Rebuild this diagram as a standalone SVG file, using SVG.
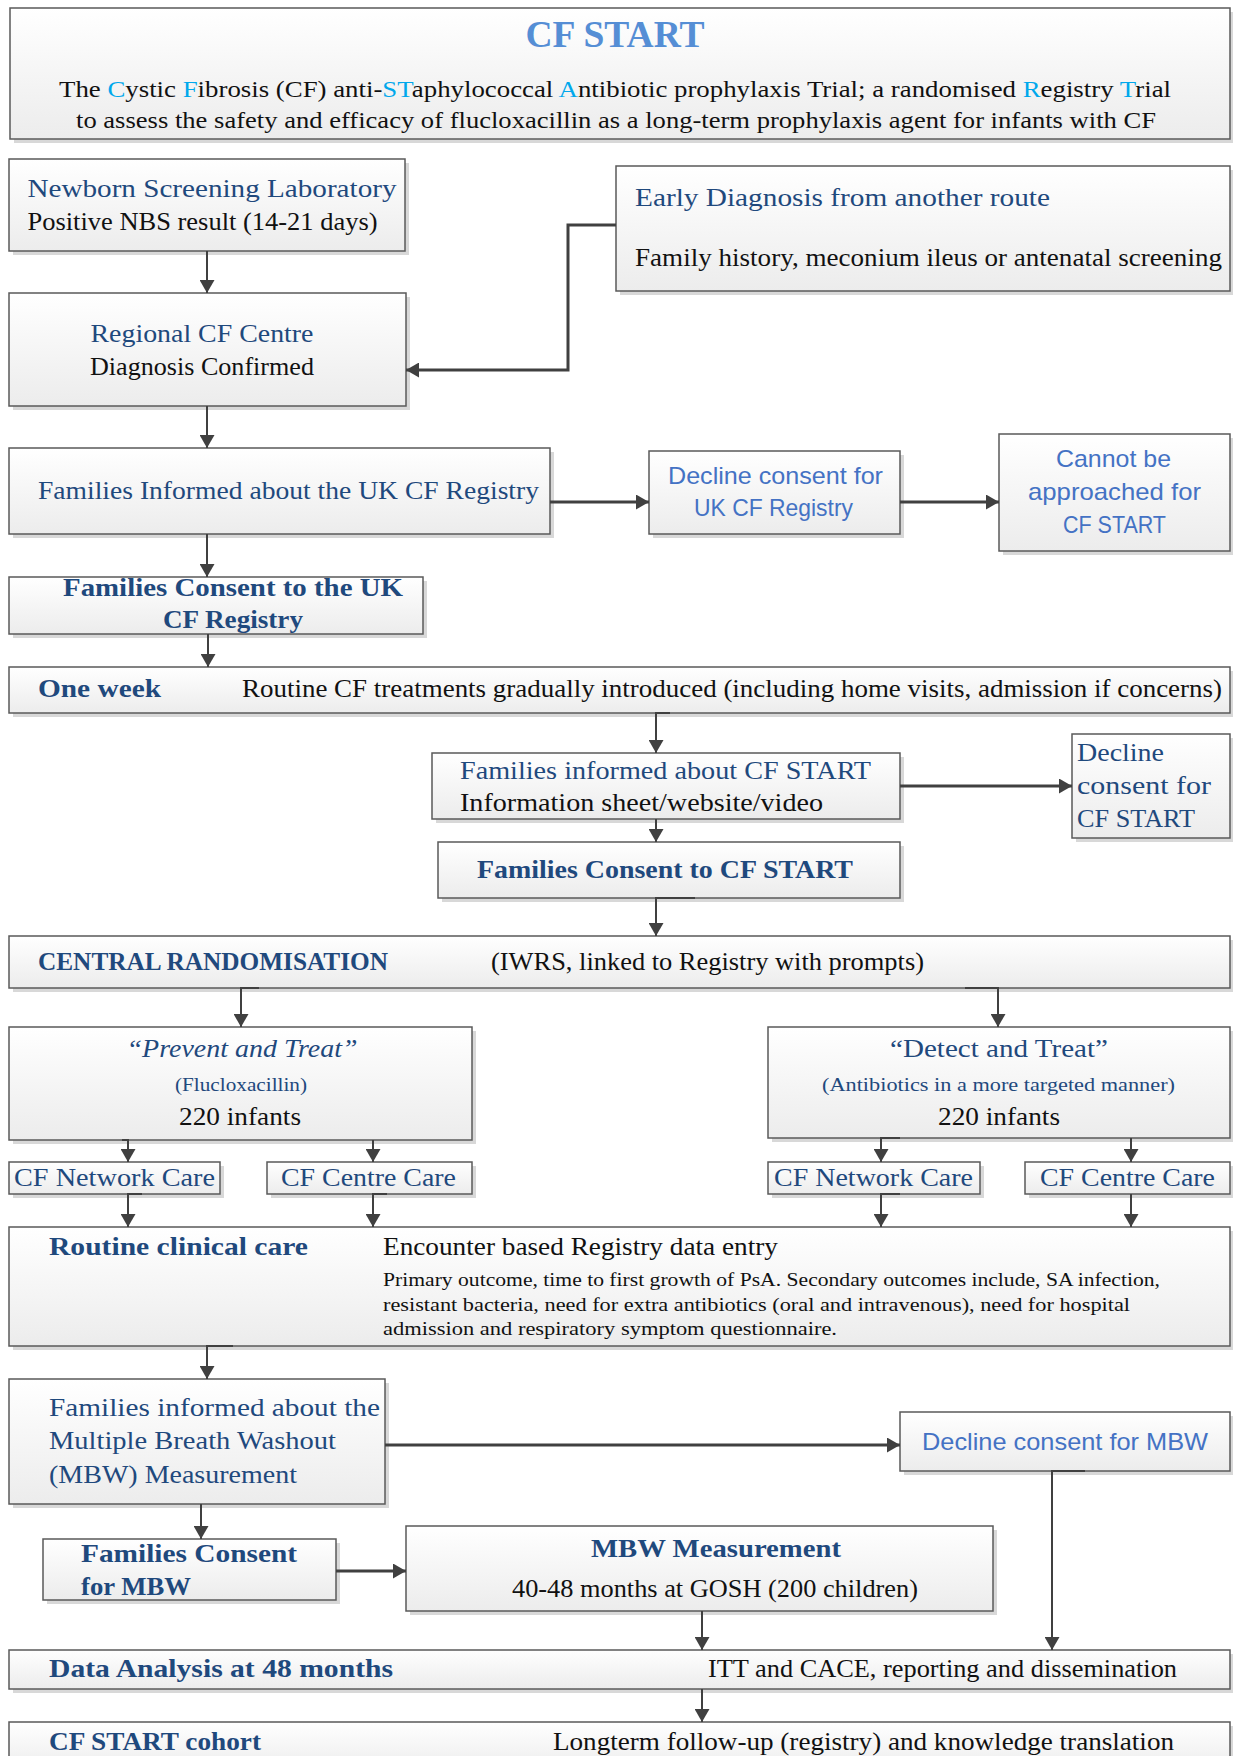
<svg xmlns="http://www.w3.org/2000/svg" width="1233" height="1756" viewBox="0 0 1233 1756">
<defs>
<linearGradient id="g" x1="0" y1="0" x2="0" y2="1">
<stop offset="0" stop-color="#ffffff"/>
<stop offset="1" stop-color="#ececec"/>
</linearGradient>
<marker id="ah" markerUnits="userSpaceOnUse" markerWidth="14" markerHeight="15" viewBox="0 0 13 15" refX="13" refY="7.5" orient="auto">
<path d="M0,0 L13,7.5 L0,15 z" fill="#404040"/>
</marker>
<style>
.box{fill:url(#g);stroke:#5a5a5a;stroke-width:1.5}
.sh{fill:#d8d8d8}
.s{font-family:"Liberation Serif","Times New Roman",serif;font-size:26px}
.sans{font-family:"Liberation Sans",Arial,sans-serif;font-size:24px;fill:#4472C4}
.b{fill:#1F497D}
.k{fill:#111111}
.bd{font-weight:bold}
.sm{font-size:18.5px}
.cn{fill:none;stroke:#404040;stroke-width:2}
.th{stroke-width:3}
</style>
</defs>
<rect width="1233" height="1756" fill="#ffffff"/>

<g id="title">
<rect class="sh" x="14" y="12" width="1220" height="131"/>
<rect class="box" x="10" y="8" width="1220" height="131"/>
<text x="615" y="47" text-anchor="middle" font-family="Liberation Serif,serif" font-weight="bold" font-size="38" fill="#558ED5" textLength="179" lengthAdjust="spacingAndGlyphs">CF START</text>
<text class="s k" x="615" y="97" text-anchor="middle" style="font-size:23px" textLength="1112" lengthAdjust="spacingAndGlyphs">The <tspan fill="#00A8EC">C</tspan>ystic <tspan fill="#00A8EC">F</tspan>ibrosis (CF) anti-<tspan fill="#00A8EC">ST</tspan>aphylococcal <tspan fill="#00A8EC">A</tspan>ntibiotic prophylaxis Trial; a randomised <tspan fill="#00A8EC">R</tspan>egistry <tspan fill="#00A8EC">T</tspan>rial</text>
<text class="s k" x="616" y="128" text-anchor="middle" style="font-size:23px" textLength="1080" lengthAdjust="spacingAndGlyphs">to assess the safety and efficacy of flucloxacillin as a long-term prophylaxis agent for infants with CF</text>
</g>

<g id="nbs">
<rect class="sh" x="13" y="163" width="396" height="92"/>
<rect class="box" x="9" y="159" width="396" height="92"/>
<text class="s b" x="27.5" y="197" textLength="369" lengthAdjust="spacingAndGlyphs">Newborn Screening Laboratory</text>
<text class="s k" x="27.5" y="230" textLength="350" lengthAdjust="spacingAndGlyphs">Positive NBS result (14-21 days)</text>
</g>

<g id="early">
<rect class="sh" x="620" y="170" width="614" height="125"/>
<rect class="box" x="616" y="166" width="614" height="125"/>
<text class="s b" x="635" y="206" textLength="415" lengthAdjust="spacingAndGlyphs">Early Diagnosis from another route</text>
<text class="s k" x="635" y="266" textLength="587" lengthAdjust="spacingAndGlyphs">Family history, meconium ileus or antenatal screening</text>
</g>

<g id="regional">
<rect class="sh" x="13" y="297" width="397" height="113"/>
<rect class="box" x="9" y="293" width="397" height="113"/>
<text class="s b" x="202" y="342" text-anchor="middle" textLength="223" lengthAdjust="spacingAndGlyphs">Regional CF Centre</text>
<text class="s k" x="202" y="375" text-anchor="middle" textLength="224" lengthAdjust="spacingAndGlyphs">Diagnosis Confirmed</text>
</g>

<g id="informed-registry">
<rect class="sh" x="13" y="452" width="541" height="86"/>
<rect class="box" x="9" y="448" width="541" height="86"/>
<text class="s b" x="38" y="499" textLength="501" lengthAdjust="spacingAndGlyphs">Families Informed about the UK CF Registry</text>
</g>

<g id="decline-registry">
<rect class="sh" x="653" y="455" width="251" height="83"/>
<rect class="box" x="649" y="451" width="251" height="83"/>
<text class="sans" x="775.5" y="484" text-anchor="middle" textLength="215" lengthAdjust="spacingAndGlyphs">Decline consent for</text>
<text class="sans" x="773.5" y="516" text-anchor="middle" textLength="159" lengthAdjust="spacingAndGlyphs">UK CF Registry</text>
</g>

<g id="cannot">
<rect class="sh" x="1003" y="438" width="231" height="117"/>
<rect class="box" x="999" y="434" width="231" height="117"/>
<text class="sans" x="1113.5" y="467" text-anchor="middle" textLength="115" lengthAdjust="spacingAndGlyphs">Cannot be</text>
<text class="sans" x="1114.5" y="500" text-anchor="middle" textLength="173" lengthAdjust="spacingAndGlyphs">approached for</text>
<text class="sans" x="1114.5" y="533" text-anchor="middle" textLength="103" lengthAdjust="spacingAndGlyphs">CF START</text>
</g>

<g id="consent-registry">
<rect class="sh" x="13" y="581" width="414" height="57"/>
<rect class="box" x="9" y="577" width="414" height="57"/>
<text class="s b bd" x="63" y="596" textLength="340" lengthAdjust="spacingAndGlyphs">Families Consent to the UK</text>
<text class="s b bd" x="163" y="628" textLength="140" lengthAdjust="spacingAndGlyphs">CF Registry</text>
</g>

<g id="one-week">
<rect class="sh" x="13" y="671" width="1221" height="46"/>
<rect class="box" x="9" y="667" width="1221" height="46"/>
<text class="s b bd" x="38" y="697" textLength="123" lengthAdjust="spacingAndGlyphs">One week</text>
<text class="s k" x="242" y="697" textLength="980" lengthAdjust="spacingAndGlyphs">Routine CF treatments gradually introduced (including home visits, admission if concerns)</text>
</g>

<g id="informed-start">
<rect class="sh" x="436" y="757" width="468" height="66"/>
<rect class="box" x="432" y="753" width="468" height="66"/>
<text class="s b" x="460" y="779" textLength="411" lengthAdjust="spacingAndGlyphs">Families informed about CF START</text>
<text class="s k" x="460" y="811" textLength="363" lengthAdjust="spacingAndGlyphs">Information sheet/website/video</text>
</g>

<g id="decline-start">
<rect class="sh" x="1076" y="738" width="158" height="104"/>
<rect class="box" x="1072" y="734" width="158" height="104"/>
<text class="s b" x="1077" y="761" textLength="87" lengthAdjust="spacingAndGlyphs">Decline</text>
<text class="s b" x="1077" y="794" textLength="134" lengthAdjust="spacingAndGlyphs">consent for</text>
<text class="s b" x="1077" y="827" textLength="118" lengthAdjust="spacingAndGlyphs">CF START</text>
</g>

<g id="consent-start">
<rect class="sh" x="442" y="846" width="462" height="56"/>
<rect class="box" x="438" y="842" width="462" height="56"/>
<text class="s b bd" x="665" y="878" text-anchor="middle" textLength="376" lengthAdjust="spacingAndGlyphs">Families Consent to CF START</text>
</g>

<g id="randomisation">
<rect class="sh" x="13" y="940" width="1221" height="52"/>
<rect class="box" x="9" y="936" width="1221" height="52"/>
<text class="s b bd" x="38" y="970" textLength="350" lengthAdjust="spacingAndGlyphs">CENTRAL RANDOMISATION</text>
<text class="s k" x="491" y="970" textLength="433" lengthAdjust="spacingAndGlyphs">(IWRS, linked to Registry with prompts)</text>
</g>

<g id="prevent">
<rect class="sh" x="13" y="1031" width="463" height="113"/>
<rect class="box" x="9" y="1027" width="463" height="113"/>
<text class="s b" x="242" y="1057" text-anchor="middle" font-style="italic" textLength="231" lengthAdjust="spacingAndGlyphs">“Prevent and Treat”</text>
<text class="s b" x="241" y="1091" text-anchor="middle" style="font-size:19.5px" textLength="132" lengthAdjust="spacingAndGlyphs">(Flucloxacillin)</text>
<text class="s k" x="240" y="1125" text-anchor="middle" textLength="122" lengthAdjust="spacingAndGlyphs">220 infants</text>
</g>

<g id="detect">
<rect class="sh" x="772" y="1031" width="462" height="111"/>
<rect class="box" x="768" y="1027" width="462" height="111"/>
<text class="s b" x="999" y="1057" text-anchor="middle" textLength="218" lengthAdjust="spacingAndGlyphs">“Detect and Treat”</text>
<text class="s b" x="998.5" y="1091" text-anchor="middle" style="font-size:19.5px" textLength="353" lengthAdjust="spacingAndGlyphs">(Antibiotics in a more targeted manner)</text>
<text class="s k" x="999" y="1125" text-anchor="middle" textLength="122" lengthAdjust="spacingAndGlyphs">220 infants</text>
</g>

<g id="network-left">
<rect class="sh" x="13" y="1166" width="211" height="32"/>
<rect class="box" x="9" y="1162" width="211" height="32"/>
<text class="s b" x="14" y="1186" textLength="201" lengthAdjust="spacingAndGlyphs">CF Network Care</text>
</g>
<g id="centre-left">
<rect class="sh" x="271" y="1166" width="205" height="32"/>
<rect class="box" x="267" y="1162" width="205" height="32"/>
<text class="s b" x="281" y="1186" textLength="175" lengthAdjust="spacingAndGlyphs">CF Centre Care</text>
</g>
<g id="network-right">
<rect class="sh" x="772" y="1166" width="212" height="32"/>
<rect class="box" x="768" y="1162" width="212" height="32"/>
<text class="s b" x="774" y="1186" textLength="199" lengthAdjust="spacingAndGlyphs">CF Network Care</text>
</g>
<g id="centre-right">
<rect class="sh" x="1029" y="1166" width="205" height="32"/>
<rect class="box" x="1025" y="1162" width="205" height="32"/>
<text class="s b" x="1040" y="1186" textLength="175" lengthAdjust="spacingAndGlyphs">CF Centre Care</text>
</g>

<g id="routine-care">
<rect class="sh" x="13" y="1231" width="1221" height="119"/>
<rect class="box" x="9" y="1227" width="1221" height="119"/>
<text class="s b bd" x="49" y="1255" textLength="259" lengthAdjust="spacingAndGlyphs">Routine clinical care</text>
<text class="s k" x="383" y="1255" textLength="395" lengthAdjust="spacingAndGlyphs">Encounter based Registry data entry</text>
<text class="s k sm" x="383" y="1286" textLength="777" lengthAdjust="spacingAndGlyphs">Primary outcome, time to first growth of PsA. Secondary outcomes include, SA infection,</text>
<text class="s k sm" x="383" y="1311" textLength="747" lengthAdjust="spacingAndGlyphs">resistant bacteria, need for extra antibiotics (oral and intravenous), need for hospital</text>
<text class="s k sm" x="383" y="1335" textLength="454" lengthAdjust="spacingAndGlyphs">admission and respiratory symptom questionnaire.</text>
</g>

<g id="informed-mbw">
<rect class="sh" x="13" y="1383" width="376" height="125"/>
<rect class="box" x="9" y="1379" width="376" height="125"/>
<text class="s b" x="49" y="1416" textLength="331" lengthAdjust="spacingAndGlyphs">Families informed about the</text>
<text class="s b" x="49" y="1449" textLength="287" lengthAdjust="spacingAndGlyphs">Multiple Breath Washout</text>
<text class="s b" x="49" y="1483" textLength="248" lengthAdjust="spacingAndGlyphs">(MBW) Measurement</text>
</g>

<g id="decline-mbw">
<rect class="sh" x="904" y="1416" width="330" height="59"/>
<rect class="box" x="900" y="1412" width="330" height="59"/>
<text class="sans" x="922" y="1450" textLength="286" lengthAdjust="spacingAndGlyphs">Decline consent for MBW</text>
</g>

<g id="consent-mbw">
<rect class="sh" x="47" y="1543" width="293" height="61"/>
<rect class="box" x="43" y="1539" width="293" height="61"/>
<text class="s b bd" x="81" y="1562" textLength="216" lengthAdjust="spacingAndGlyphs">Families Consent</text>
<text class="s b bd" x="81" y="1595" textLength="110" lengthAdjust="spacingAndGlyphs">for MBW</text>
</g>

<g id="mbw-measurement">
<rect class="sh" x="410" y="1530" width="587" height="85"/>
<rect class="box" x="406" y="1526" width="587" height="85"/>
<text class="s b bd" x="716" y="1557" text-anchor="middle" textLength="250" lengthAdjust="spacingAndGlyphs">MBW Measurement</text>
<text class="s k" x="715" y="1597" text-anchor="middle" textLength="406" lengthAdjust="spacingAndGlyphs">40-48 months at GOSH (200 children)</text>
</g>

<g id="data-analysis">
<rect class="sh" x="13" y="1654" width="1221" height="39"/>
<rect class="box" x="9" y="1650" width="1221" height="39"/>
<text class="s b bd" x="49" y="1677" textLength="344" lengthAdjust="spacingAndGlyphs">Data Analysis at 48 months</text>
<text class="s k" x="708" y="1677" textLength="469" lengthAdjust="spacingAndGlyphs">ITT and CACE, reporting and dissemination</text>
</g>

<g id="cohort">
<rect class="sh" x="13" y="1726" width="1221" height="50"/>
<rect class="box" x="9" y="1722" width="1221" height="50"/>
<text class="s b bd" x="49" y="1750" textLength="212" lengthAdjust="spacingAndGlyphs">CF START cohort</text>
<text class="s k" x="553" y="1750" textLength="621" lengthAdjust="spacingAndGlyphs">Longterm follow-up (registry) and knowledge translation</text>
</g>

<g id="connectors">
<path class="cn" d="M207 251 V293" marker-end="url(#ah)"/>
<path class="cn th" d="M616 225 H568 V370 H406" marker-end="url(#ah)"/>
<path class="cn" d="M207 406 V448" marker-end="url(#ah)"/>
<path class="cn th" d="M550 502 H649" marker-end="url(#ah)"/>
<path class="cn th" d="M900 502 H999" marker-end="url(#ah)"/>
<path class="cn" d="M207 534 V577" marker-end="url(#ah)"/>
<path class="cn" d="M208 634 V667" marker-end="url(#ah)"/>
<path class="cn" d="M670 713 H656 V753" marker-end="url(#ah)"/>
<path class="cn th" d="M900 786 H1072" marker-end="url(#ah)"/>
<path class="cn" d="M656 819 V842" marker-end="url(#ah)"/>
<path class="cn" d="M695 898 H656 V936" marker-end="url(#ah)"/>
<path class="cn" d="M259 988 H241 V1027" marker-end="url(#ah)"/>
<path class="cn" d="M965 988 H998 V1027" marker-end="url(#ah)"/>
<path class="cn" d="M122 1140 H128 V1162" marker-end="url(#ah)"/>
<path class="cn" d="M373 1140 V1162" marker-end="url(#ah)"/>
<path class="cn" d="M900 1138 H881 V1162" marker-end="url(#ah)"/>
<path class="cn" d="M1131 1138 V1162" marker-end="url(#ah)"/>
<path class="cn" d="M142 1194 H128 V1227" marker-end="url(#ah)"/>
<path class="cn" d="M387 1194 H373 V1227" marker-end="url(#ah)"/>
<path class="cn" d="M900 1194 H881 V1227" marker-end="url(#ah)"/>
<path class="cn" d="M1131 1194 V1227" marker-end="url(#ah)"/>
<path class="cn" d="M233 1346 H207 V1379" marker-end="url(#ah)"/>
<path class="cn th" d="M385 1445 H900" marker-end="url(#ah)"/>
<path class="cn" d="M201 1504 V1539" marker-end="url(#ah)"/>
<path class="cn th" d="M336 1571 H406" marker-end="url(#ah)"/>
<path class="cn" d="M702 1611 V1650" marker-end="url(#ah)"/>
<path class="cn" d="M1085 1471 H1052 V1650" marker-end="url(#ah)"/>
<path class="cn" d="M702 1689 V1722" marker-end="url(#ah)"/>
</g>
</svg>
